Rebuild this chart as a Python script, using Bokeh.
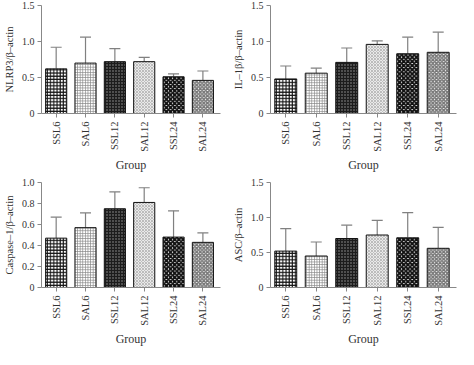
import math
from bokeh.plotting import figure
from bokeh.layouts import gridplot
from bokeh.models import FixedTicker, ColumnDataSource, Whisker, TeeHead, PrintfTickFormatter
from bokeh.embed import file_html
from bokeh.resources import INLINE

groups = ["SSL6", "SAL6", "SSL12", "SAL12", "SSL24", "SAL24"]

nlrp3_mean = [0.62, 0.70, 0.72, 0.72, 0.51, 0.46]
nlrp3_upper = [0.92, 1.06, 0.90, 0.78, 0.55, 0.59]

il1b_mean = [0.48, 0.56, 0.71, 0.96, 0.83, 0.85]
il1b_upper = [0.66, 0.63, 0.91, 1.01, 1.06, 1.13]

casp1_mean = [0.47, 0.57, 0.75, 0.81, 0.48, 0.43]
casp1_upper = [0.67, 0.71, 0.91, 0.95, 0.73, 0.52]

asc_mean = [0.52, 0.45, 0.70, 0.75, 0.71, 0.56]
asc_upper = [0.84, 0.65, 0.89, 0.96, 1.07, 0.86]

yticks_15 = [0, 0.5, 1.0, 1.5]
yticks_10 = [0, 0.2, 0.4, 0.6, 0.8, 1.0]

# style per group: fill, hatch pattern, hatch color, scale, weight
styles = [
    ("white", "+", "#111111", 3.2, 1.1),
    ("white", "+", "#888888", 2.6, 0.8),
    ("#1c1c1c", ".", "#9a9a9a", 3.0, 1.0),
    ("white", "x", "#bbbbbb", 3.0, 1.2),
    ("white", "x", "#111111", 4.2, 2.0),
    ("white", "x", "#777777", 3.6, 1.6),
]

FONT = "Liberation Serif"


def make_panel(means, uppers, ylabel, ymax, ticks, left, right, top, bottom):
    p = figure(width=229, height=174, output_backend="svg", toolbar_location=None,
               x_range=(-0.5, 5.6), y_range=(0, ymax),
               min_border_left=left, min_border_right=right,
               min_border_top=top, min_border_bottom=bottom)
    p.outline_line_color = None
    p.xgrid.visible = False
    p.ygrid.visible = False
    p.background_fill_color = "white"
    xs = list(range(len(groups)))
    src = ColumnDataSource(dict(
        x=xs, top=means, upper=uppers,
        fill=[s[0] for s in styles], pat=[s[1] for s in styles],
        hc=[s[2] for s in styles], hs=[s[3] for s in styles], hw=[s[4] for s in styles]))
    p.add_layout(Whisker(source=src, base="x", lower="top", upper="upper",
                         line_color="#808080", line_width=1.2,
                         upper_head=TeeHead(size=11, line_color="#808080", line_width=1.2),
                         lower_head=None, level="underlay"))
    p.vbar(x="x", top="top", width=0.72, bottom=0, source=src,
           fill_color="fill", line_color="#111111", line_width=1,
           hatch_pattern="pat", hatch_color="hc", hatch_scale="hs", hatch_weight="hw")
    # axes
    p.xaxis.ticker = FixedTicker(ticks=xs)
    p.xaxis.major_label_overrides = {i: g for i, g in enumerate(groups)}
    p.xaxis.major_label_orientation = math.pi / 2
    p.xaxis.minor_tick_line_color = None
    p.xaxis.axis_label = "Group"
    p.yaxis.ticker = FixedTicker(ticks=ticks)
    p.yaxis.formatter = PrintfTickFormatter(format="%.1f")
    p.yaxis.major_label_overrides = {0: "0"}
    p.yaxis.minor_tick_line_color = None
    p.yaxis.axis_label = ylabel
    for ax in (p.xaxis, p.yaxis):
        ax.axis_line_color = "#888888"
        ax.major_tick_line_color = "#888888"
        ax.major_tick_out = 4
        ax.major_tick_in = 0
        ax.major_label_text_font = FONT
        ax.major_label_text_color = "#333333"
        ax.axis_label_text_font = FONT
        ax.axis_label_text_font_style = "normal"
        ax.axis_label_text_color = "#333333"
    p.xaxis.major_label_text_font_size = "10.5px"
    p.yaxis.major_label_text_font_size = "10px"
    p.xaxis.axis_label_text_font_size = "12px"
    p.yaxis.axis_label_text_font_size = "10.5px"
    p.xaxis.major_label_standoff = 4
    p.xaxis.axis_label_standoff = 3
    p.yaxis.major_label_standoff = 3
    p.yaxis.axis_label_standoff = 4
    return p


p1 = make_panel(nlrp3_mean, nlrp3_upper, "NLRP3/β–actin", 1.5, yticks_15, 30, 9, 5, 53)
p2 = make_panel(il1b_mean, il1b_upper, "IL–1β/β–actin", 1.5, yticks_15, 36, 2, 5, 53)
p3 = make_panel(casp1_mean, casp1_upper, "Caspase–1/β–actin", 1.0, yticks_10, 30, 9, 8, 50)
p4 = make_panel(asc_mean, asc_upper, "ASC/β–actin", 1.5, yticks_15, 36, 2, 8, 50)

grid = gridplot([[p1, p2], [p3, p4]], toolbar_location=None)

open("out.html", "w").write(file_html(grid, INLINE))
